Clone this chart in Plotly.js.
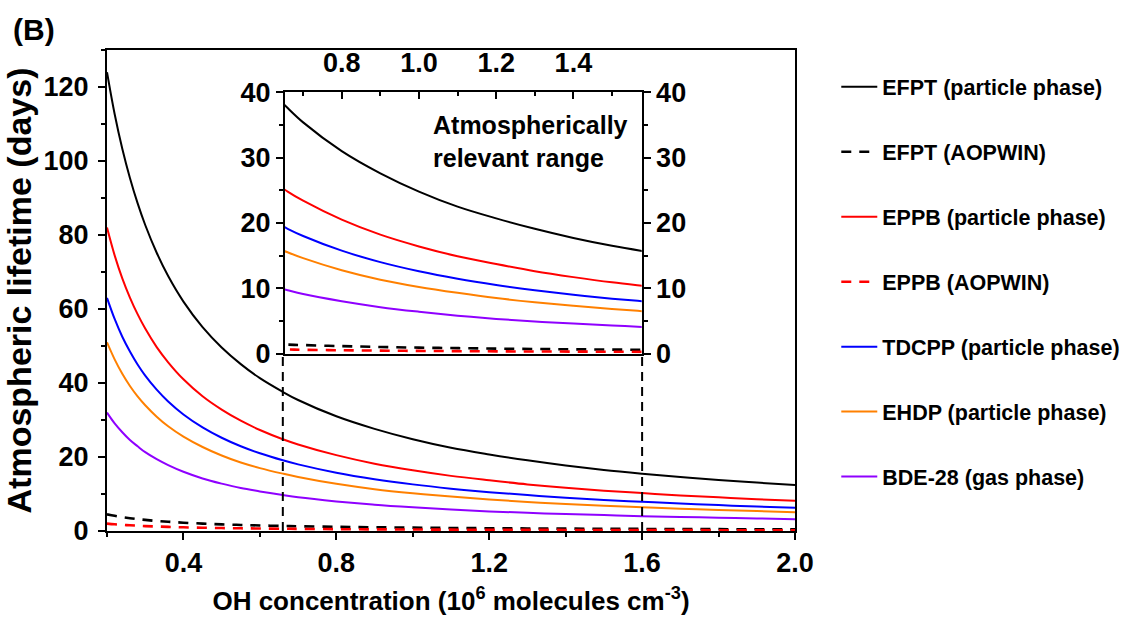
<!DOCTYPE html>
<html><head><meta charset="utf-8">
<script src="https://cdn.plot.ly/plotly-3.0.1.min.js"></script>
<style>html,body{margin:0;padding:0;background:#fff}#chart{width:1137px;height:617px}</style>
</head><body><div id="chart"></div>
<script>
// OH concentration (10^6 molecules cm^-3)
const ohConc = [0.2,0.22,0.24,0.26,0.28,0.3,0.33,0.36,0.4,0.45,0.5,0.55,0.6,0.66,0.7,0.8,0.9,1.0,1.1,1.2,1.3,1.4,1.5,1.6,1.7,1.8,1.9,2.0];
// Atmospheric lifetime (days)
const efptParticle = [124,112.7,103.3,95.4,88.6,82.7,75.2,68.9,62,55.1,49.6,45.1,41.3,37.6,35.4,31,27.6,24.8,22.5,20.7,19.1,17.7,16.5,15.5,14.6,13.8,13.1,12.4];
const efptAopwin   = [4.5,4.1,3.75,3.46,3.2,3,2.7,2.5,2.25,2,1.8,1.64,1.5,1.36,1.29,1.13,1,0.9,0.82,0.75,0.69,0.64,0.6,0.56,0.53,0.5,0.47,0.45];
const eppbParticle = [82,74.5,68.3,63.1,58.6,54.7,49.7,45.6,41,36.4,32.8,29.8,27.3,24.8,23.4,20.5,18.2,16.4,14.9,13.7,12.6,11.7,10.9,10.25,9.6,9.1,8.6,8.2];
const eppbAopwin   = [2,1.82,1.67,1.54,1.43,1.33,1.21,1.11,1,0.89,0.8,0.73,0.67,0.61,0.57,0.5,0.44,0.4,0.36,0.33,0.31,0.29,0.27,0.25,0.24,0.22,0.21,0.2];
const tdcppParticle = [63,57.3,52.5,48.5,45,42,38.2,35,31.5,28,25.2,22.9,21,19.1,18,15.75,14,12.6,11.45,10.5,9.7,9,8.4,7.9,7.4,7,6.6,6.3];
const ehdpParticle  = [51,46.4,42.5,39.2,36.4,34,30.9,28.3,25.5,22.7,20.4,18.5,17,15.5,14.6,12.75,11.3,10.2,9.3,8.5,7.85,7.3,6.8,6.4,6,5.7,5.4,5.1];
const bde28Gas      = [32,29.1,26.7,24.6,22.9,21.3,19.4,17.8,16,14.2,12.8,11.6,10.7,9.7,9.1,8,7.1,6.4,5.8,5.3,4.9,4.6,4.3,4,3.8,3.6,3.4,3.2];
// Atmospherically relevant range bounds
const relevantRange = [0.66, 1.6];

const seriesNames = ['EFPT (particle phase)','EFPT (AOPWIN)','EPPB (particle phase)','EPPB (AOPWIN)','TDCPP (particle phase)','EHDP (particle phase)','BDE-28 (gas phase)'];
const seriesValues = [efptParticle, efptAopwin, eppbParticle, eppbAopwin, tdcppParticle, ehdpParticle, bde28Gas];
const seriesColors = ['#000000','#000000','#ff0000','#ff0000','#0000ff','#ff8000','#8f00ff'];
const seriesDash = ['solid','10px,8px','solid','10px,8px','solid','solid','solid'];
const seriesWidth = [2,2.6,2,2.6,2,2,2];

const FONT = 'Liberation Sans, Arial, Helvetica, sans-serif';
const traces = [];
seriesNames.forEach((n,i)=>{
  traces.push({x:ohConc, y:seriesValues[i], type:'scatter', mode:'lines', name:n,
    legendgroup:'g'+i, line:{color:seriesColors[i], width:seriesWidth[i], dash:seriesDash[i], shape:'spline', smoothing:1},
    xaxis:'x', yaxis:'y', hoverinfo:'skip'});
});
seriesNames.forEach((n,i)=>{
  traces.push({x:ohConc, y:seriesValues[i], type:'scatter', mode:'lines', name:n, showlegend:false,
    legendgroup:'g'+i, line:{color:seriesColors[i], width:seriesWidth[i], dash:seriesDash[i], shape:'spline', smoothing:1},
    xaxis:'x2', yaxis:'y2', hoverinfo:'skip'});
});
// empty trace so the inset right axis is drawn
traces.push({x:[], y:[], type:'scatter', mode:'lines', showlegend:false, xaxis:'x2', yaxis:'y3', hoverinfo:'skip'});

const tickFont = {family:FONT, size:27, color:'#000', weight:'bold'};
const insetX0 = 0.2587, insetX1 = 0.7772, insetY0 = 0.369, insetY1 = 0.912;

const layout = {
  width:1137, height:617,
  margin:{l:107, r:342, t:50, b:86, autoexpand:false},
  paper_bgcolor:'#fff', plot_bgcolor:'rgba(0,0,0,0)',
  font:{family:FONT, color:'#000'},
  showlegend:true,
  xaxis:{range:[0.2,2.0], domain:[0,1], tick0:0, dtick:0.4, tickformat:'.1f',
    ticks:'outside', ticklen:7, tickwidth:2, tickcolor:'#000',
    minor:{dtick:0.2, ticks:'outside', ticklen:4, tickwidth:2, tickcolor:'#000'},
    showline:true, linewidth:2, linecolor:'#000', mirror:true, showgrid:false, zeroline:false,
    tickfont:tickFont,
    title:{text:'OH concentration (10<sup>6</sup> molecules cm<sup>-3</sup>)', font:{family:FONT, size:26, weight:'bold', color:'#000'}, standoff:14}},
  yaxis:{range:[0,130], domain:[0,1], tick0:0, dtick:20,
    ticks:'outside', ticklen:7, tickwidth:2, tickcolor:'#000',
    minor:{dtick:10, ticks:'outside', ticklen:4, tickwidth:2, tickcolor:'#000'},
    showline:true, linewidth:2, linecolor:'#000', mirror:true, showgrid:false, zeroline:false,
    tickfont:tickFont, ticklabelstandoff:4,
    title:{text:'Atmospheric lifetime (days)', font:{family:FONT, size:34, weight:'bold', color:'#000'}, standoff:18}},
  xaxis2:{range:[0.653,1.577], domain:[insetX0,insetX1], anchor:'y2', side:'top', tick0:0, dtick:0.2, tickformat:'.1f',
    ticks:'inside', ticklen:7, tickwidth:2, tickcolor:'#000',
    minor:{dtick:0.1, ticks:'inside', ticklen:4, tickwidth:2, tickcolor:'#000'},
    showline:true, linewidth:2, linecolor:'#000', mirror:true, showgrid:false, zeroline:false,
    tickfont:tickFont, ticklabelstandoff:8},
  yaxis2:{range:[0,40], domain:[insetY0,insetY1], anchor:'x2', tick0:0, dtick:10,
    ticks:'outside', ticklen:7, tickwidth:2, tickcolor:'#000',
    minor:{dtick:5, ticks:'outside', ticklen:4, tickwidth:2, tickcolor:'#000'},
    showline:true, linewidth:2, linecolor:'#000', showgrid:false, zeroline:false,
    tickfont:tickFont},
  yaxis3:{range:[0,40], overlaying:'y2', matches:'y2', anchor:'x2', side:'right', tick0:0, dtick:10,
    ticks:'outside', ticklen:7, tickwidth:2, tickcolor:'#000',
    minor:{dtick:5, ticks:'outside', ticklen:4, tickwidth:2, tickcolor:'#000'},
    showline:true, linewidth:2, linecolor:'#000', showgrid:false, zeroline:false,
    tickfont:tickFont},
  legend:{x:1.06, y:0.966, xanchor:'left', yanchor:'top', bgcolor:'rgba(0,0,0,0)',
    font:{family:FONT, size:21.5, weight:'bold', color:'#000'}, tracegroupgap:34, itemwidth:36},
  shapes: relevantRange.map(v=>({type:'line', xref:'x', yref:'paper', x0:v, x1:v, y0:0, y1:insetY0,
    line:{color:'#000', width:2, dash:'9px,6px'}})),
  annotations:[
    {text:'(B)', xref:'paper', yref:'paper', x:-0.14, y:1.082, xanchor:'left', yanchor:'top', showarrow:false,
      font:{family:FONT, size:30, weight:'bold', color:'#000'}},
    {text:'Atmospherically<br>relevant range', xref:'x2 domain', yref:'y2 domain', x:0.41, y:0.935, xanchor:'left', yanchor:'top',
      align:'left', showarrow:false, font:{family:FONT, size:25, weight:'bold', color:'#000'}}
  ]
};
Plotly.newPlot('chart', traces, layout, {displayModeBar:false, staticPlot:true});
</script></body></html>
